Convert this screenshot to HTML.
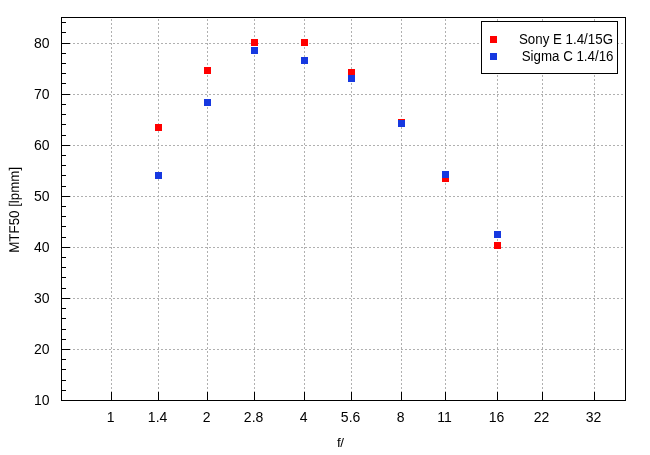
<!DOCTYPE html><html><head><meta charset="utf-8"><style>html,body{margin:0;padding:0;background:#fff;width:650px;height:455px;overflow:hidden}svg{display:block;will-change:transform}text{font-family:"Liberation Sans",sans-serif;font-size:13.33px;fill:#000}.t{font-size:14px}</style></head><body>
<svg width="650" height="455" viewBox="0 0 650 455">
<rect width="650" height="455" fill="#fff"/>
<path d="M61 43.5H626 M61 94.5H626 M61 145.5H626 M61 196.5H626 M61 247.5H626 M61 298.5H626 M61 349.5H626 M111.5 401V17 M158.5 401V17 M207.5 401V17 M254.5 401V17 M304.5 401V17 M351.5 401V17 M401.5 401V17 M445.5 401V17 M497.5 401V17 M542.5 401V17 M594.5 401V17" stroke="#b0b0b0" stroke-width="1" stroke-dasharray="2 2" fill="none" shape-rendering="crispEdges"/>
<rect x="481.5" y="21.5" width="136" height="52" fill="#fff" stroke="#000" stroke-width="1" shape-rendering="crispEdges"/>
<path d="M61 400.5h9 M61 390.5h5 M61 380.5h5 M61 369.5h5 M61 359.5h5 M61 349.5h9 M61 339.5h5 M61 329.5h5 M61 318.5h5 M61 308.5h5 M61 298.5h9 M61 288.5h5 M61 277.5h5 M61 267.5h5 M61 257.5h5 M61 247.5h9 M61 237.5h5 M61 226.5h5 M61 216.5h5 M61 206.5h5 M61 196.5h9 M61 186.5h5 M61 175.5h5 M61 165.5h5 M61 155.5h5 M61 145.5h9 M61 135.5h5 M61 124.5h5 M61 114.5h5 M61 104.5h5 M61 94.5h9 M61 83.5h5 M61 73.5h5 M61 63.5h5 M61 53.5h5 M61 43.5h9 M61 32.5h5 M61 22.5h5 M111.5 400v-8 M158.5 400v-8 M207.5 400v-8 M254.5 400v-8 M304.5 400v-8 M351.5 400v-8 M401.5 400v-8 M445.5 400v-8 M497.5 400v-8 M542.5 400v-8 M594.5 400v-8" stroke="#000" stroke-width="1" fill="none" shape-rendering="crispEdges"/>
<rect x="61.5" y="17.5" width="564" height="383" fill="none" stroke="#000" stroke-width="1" shape-rendering="crispEdges"/>
<text class="t" x="49.5" y="405.0" text-anchor="end">10</text>
<text class="t" x="49.5" y="354.0" text-anchor="end">20</text>
<text class="t" x="49.5" y="303.0" text-anchor="end">30</text>
<text class="t" x="49.5" y="252.0" text-anchor="end">40</text>
<text class="t" x="49.5" y="201.0" text-anchor="end">50</text>
<text class="t" x="49.5" y="150.0" text-anchor="end">60</text>
<text class="t" x="49.5" y="99.0" text-anchor="end">70</text>
<text class="t" x="49.5" y="48.0" text-anchor="end">80</text>
<text class="t" x="110.6" y="422" text-anchor="middle">1</text>
<text class="t" x="157.6" y="422" text-anchor="middle">1.4</text>
<text class="t" x="206.6" y="422" text-anchor="middle">2</text>
<text class="t" x="253.6" y="422" text-anchor="middle">2.8</text>
<text class="t" x="303.6" y="422" text-anchor="middle">4</text>
<text class="t" x="350.6" y="422" text-anchor="middle">5.6</text>
<text class="t" x="400.6" y="422" text-anchor="middle">8</text>
<text class="t" x="444.6" y="422" text-anchor="middle">11</text>
<text class="t" x="496.6" y="422" text-anchor="middle">16</text>
<text class="t" x="541.6" y="422" text-anchor="middle">22</text>
<text class="t" x="593.6" y="422" text-anchor="middle">32</text>
<text transform="translate(340.3,447) " text-anchor="middle" letter-spacing="-0.4">f/</text>
<text transform="translate(19,209.8) rotate(-90) scale(1,1.06)" text-anchor="middle" text-rendering="geometricPrecision">MTF50 [lpmm]</text>
<text transform="translate(613,43.6) scale(1,1.1)" text-anchor="end">Sony E 1.4/15G</text>
<text transform="translate(613.5,60.6) scale(1,1.1)" text-anchor="end">Sigma C 1.4/16</text>
<rect x="155" y="124" width="7" height="7" fill="#ff0000"/>
<rect x="204" y="67" width="7" height="7" fill="#ff0000"/>
<rect x="251" y="39" width="7" height="7" fill="#ff0000"/>
<rect x="301" y="39" width="7" height="7" fill="#ff0000"/>
<rect x="348" y="69" width="7" height="7" fill="#ff0000"/>
<rect x="398" y="119" width="7" height="7" fill="#ff0000"/>
<rect x="442" y="175" width="7" height="7" fill="#ff0000"/>
<rect x="494" y="242" width="7" height="7" fill="#ff0000"/>
<rect x="155" y="172" width="7" height="7" fill="#1638e0"/>
<rect x="204" y="99" width="7" height="7" fill="#1638e0"/>
<rect x="251" y="47" width="7" height="7" fill="#1638e0"/>
<rect x="301" y="57" width="7" height="7" fill="#1638e0"/>
<rect x="348" y="75" width="7" height="7" fill="#1638e0"/>
<rect x="398" y="120" width="7" height="7" fill="#1638e0"/>
<rect x="442" y="171" width="7" height="7" fill="#1638e0"/>
<rect x="494" y="231" width="7" height="7" fill="#1638e0"/>
<rect x="490" y="36" width="7" height="7" fill="#ff0000"/>
<rect x="490" y="53" width="7" height="7" fill="#1638e0"/>
</svg></body></html>
